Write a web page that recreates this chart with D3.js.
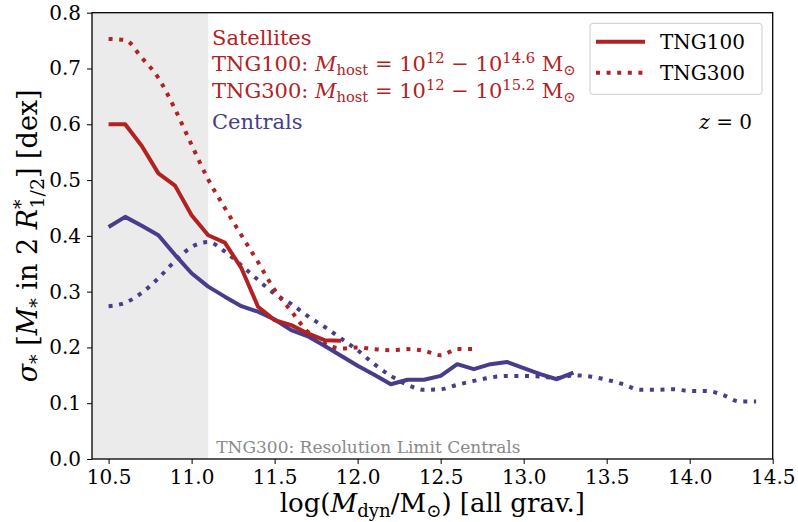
<!DOCTYPE html>
<html>
<head>
<meta charset="utf-8">
<script src="https://cdn.jsdelivr.net/npm/d3@7"></script>
</head>
<body style="margin:0">
<svg width="798" height="522"></svg>
<script>
// tick values
const xTicks = [10.5, 11.0, 11.5, 12.0, 12.5, 13.0, 13.5, 14.0, 14.5];
const yTicks = [0.0, 0.1, 0.2, 0.3, 0.4, 0.5, 0.6, 0.7, 0.8];

// satellites, TNG100 (solid)
const satMass100 = [10.5, 10.6, 10.7, 10.8, 10.9, 11.0, 11.1, 11.2, 11.3, 11.4, 11.5, 11.6, 11.7, 11.8, 11.9];
const satSigma100 = [0.600, 0.600, 0.561, 0.512, 0.490, 0.437, 0.401, 0.388, 0.342, 0.273, 0.249, 0.240, 0.225, 0.213, 0.212];

// satellites, TNG300 (dotted)
const satMass300 = [10.5, 10.6, 10.7, 10.8, 10.9, 11.0, 11.1, 11.2, 11.3, 11.4, 11.5, 11.6, 11.7, 11.8, 11.9, 12.0, 12.1, 12.2, 12.3, 12.4, 12.5, 12.6, 12.7];
const satSigma300 = [0.753, 0.751, 0.719, 0.683, 0.627, 0.563, 0.501, 0.450, 0.401, 0.353, 0.303, 0.265, 0.228, 0.207, 0.198, 0.200, 0.197, 0.195, 0.197, 0.194, 0.186, 0.197, 0.197];

// centrals, TNG100 (solid)
const cenMass100 = [10.5, 10.6, 10.7, 10.8, 10.9, 11.0, 11.1, 11.2, 11.3, 11.4, 11.5, 11.6, 11.7, 11.8, 11.9, 12.0, 12.1, 12.2, 12.3, 12.4, 12.5, 12.6, 12.7, 12.8, 12.9, 13.0, 13.1, 13.2, 13.3];
const cenSigma100 = [0.416, 0.434, 0.418, 0.401, 0.366, 0.333, 0.309, 0.291, 0.274, 0.264, 0.250, 0.231, 0.220, 0.203, 0.185, 0.167, 0.151, 0.134, 0.142, 0.142, 0.149, 0.170, 0.161, 0.170, 0.174, 0.163, 0.152, 0.143, 0.155];

// centrals, TNG300 (dotted)
const cenMass300 = [10.5, 10.6, 10.7, 10.8, 10.9, 11.0, 11.1, 11.2, 11.3, 11.4, 11.5, 11.6, 11.7, 11.8, 11.9, 12.0, 12.1, 12.2, 12.3, 12.4, 12.5, 12.6, 12.7, 12.8, 12.9, 13.0, 13.1, 13.2, 13.3, 13.4, 13.5, 13.6, 13.7, 13.8, 13.9, 14.0, 14.1, 14.2, 14.3, 14.4];
const cenSigma300 = [0.274, 0.280, 0.298, 0.324, 0.355, 0.380, 0.389, 0.372, 0.347, 0.321, 0.296, 0.278, 0.256, 0.237, 0.216, 0.195, 0.170, 0.149, 0.133, 0.124, 0.125, 0.133, 0.140, 0.146, 0.149, 0.149, 0.148, 0.145, 0.150, 0.148, 0.142, 0.134, 0.124, 0.124, 0.125, 0.122, 0.122, 0.115, 0.103, 0.103];

// shaded resolution limit
const resLimit = [10.4, 11.1];

const red = "#b22222", blue = "#483d8b";
const serifStack = '"DejaVu Serif", "Liberation Serif", serif';

const svg = d3.select("svg").style("font-family", serifStack, "important");
const pLeft = 92, pRight = 772.7, pTop = 12.7, pBottom = 459;

const x = d3.scaleLinear().domain([10.4, 14.5]).range([pLeft, pRight]);
const y = d3.scaleLinear().domain([0, 0.8]).range([pBottom, pTop]);

// plain text helper
function addLabel(px, py, size, str, color) {
  return svg.append("text")
    .attr("x", px).attr("y", py)
    .style("font-family", serifStack, "important")
    .style("font-size", size + "px")
    .attr("fill", color || "#000")
    .text(str);
}

// grey band
svg.append("rect")
  .attr("x", x(resLimit[0]))
  .attr("y", pTop)
  .attr("width", x(resLimit[1]) - x(resLimit[0]))
  .attr("height", pBottom - pTop)
  .attr("fill", "#ebebeb");

addLabel(x(resLimit[1]) + 8, pBottom - 6, 17, "TNG300: Resolution Limit Centrals", "#8a8a8a");

// lines
const lineLin = d3.line().x(d => x(d[0])).y(d => y(d[1]));
const lineSmooth = d3.line().x(d => x(d[0])).y(d => y(d[1])).curve(d3.curveMonotoneX);

function drawSeries(mass, sigma, color, dotted) {
  svg.append("path")
    .datum(d3.zip(mass, sigma))
    .attr("d", dotted ? lineSmooth : lineLin)
    .attr("fill", "none")
    .attr("stroke", color)
    .attr("stroke-width", 4)
    .attr("stroke-linejoin", "round")
    .attr("stroke-dasharray", dotted ? "4,6.6" : null);
}

drawSeries(cenMass300, cenSigma300, blue, true);
drawSeries(satMass300, satSigma300, red, true);
drawSeries(cenMass100, cenSigma100, blue, false);
drawSeries(satMass100, satSigma100, red, false);

// axes
const xAxis = svg.append("g")
  .attr("transform", `translate(0,${pBottom})`)
  .call(d3.axisBottom(x).tickValues(xTicks).tickFormat(d3.format(".1f")).tickSize(5).tickPadding(6));
const yAxis = svg.append("g")
  .attr("transform", `translate(${pLeft},0)`)
  .call(d3.axisLeft(y).tickValues(yTicks).tickFormat(d3.format(".1f")).tickSize(5).tickPadding(6));
[xAxis, yAxis].forEach(a => {
  a.attr("font-family", null).attr("font-size", null);
  a.select(".domain").remove();
  a.selectAll("text")
    .style("font-family", serifStack, "important")
    .style("font-size", "20px")
    .attr("fill", "#000");
  a.selectAll("line").attr("stroke", "#000").attr("stroke-width", 1);
});

// frame
svg.append("rect")
  .attr("x", pLeft).attr("y", pTop)
  .attr("width", pRight - pLeft).attr("height", pBottom - pTop)
  .attr("fill", "none").attr("stroke", "#000").attr("stroke-width", 1.3);

// text with sub/superscripts: s = shift in px (negative is up), f = size factor
function rich(px, py, size, parts, attrs) {
  const t = svg.append("text").attr("x", px).attr("y", py)
    .style("font-family", serifStack, "important")
    .style("font-size", size + "px");
  Object.entries(attrs || {}).forEach(([k, v]) => t.attr(k, v));
  let cur = 0;
  parts.forEach(p => {
    const s = p.s || 0;
    const ts = t.append("tspan").attr("dy", s - cur).text(p.t)
      .style("font-family", serifStack, "important");
    if (p.i) ts.style("font-style", "italic");
    if (p.f) ts.style("font-size", (size * p.f) + "px");
    if (p.dx) ts.attr("dx", p.dx);
    cur = s;
  });
  return t;
}

// annotations
addLabel(212, 45, 21, "Satellites", red);
[["TNG100: ", "14.6", 71], ["TNG300: ", "15.2", 97.5]].forEach(([lab, hi, yy]) => {
  rich(212, yy, 21, [
    { t: lab },
    { t: "M", i: true },
    { t: "host", s: 4, f: 0.7 },
    { t: " = 10", s: 0 },
    { t: "12", s: -8, f: 0.7 },
    { t: " \u2212 10", s: 0 },
    { t: hi, s: -8, f: 0.7 },
    { t: " M", s: 0 },
    { t: "\u2299", s: 4, f: 0.7 }
  ], { fill: red });
});
addLabel(212, 128.5, 21, "Centrals", blue);

rich(752, 128.5, 20, [
  { t: "z", i: true },
  { t: " = 0" }
], { "text-anchor": "end" });

// legend
const lg = svg.append("g");
lg.append("rect")
  .attr("x", 590).attr("y", 23.3).attr("width", 172).attr("height", 71)
  .attr("rx", 3).attr("fill", "#fff").attr("fill-opacity", 0.8)
  .attr("stroke", "#cccccc").attr("stroke-width", 1);
[["TNG100", false, 41.7], ["TNG300", true, 72.7]].forEach(([name, dotted, yy]) => {
  lg.append("line")
    .attr("x1", 596).attr("x2", 645).attr("y1", yy).attr("y2", yy)
    .attr("stroke", red).attr("stroke-width", 4)
    .attr("stroke-dasharray", dotted ? "4,6.6" : null);
  addLabel(660, yy + 7, 20, name);
});

// axis titles
rich((pLeft + pRight) / 2, 512, 26, [
  { t: "log(" },
  { t: "M", i: true },
  { t: "dyn", s: 5, f: 0.7 },
  { t: "/M", s: 0 },
  { t: "\u2299", s: 5, f: 0.7 },
  { t: ") [all grav.]", s: 0 }
], { "text-anchor": "middle" });

rich(0, 0, 27, [
  { t: "\u03c3", i: true },
  { t: "*", s: 6, f: 0.7 },
  { t: " [", s: 0 },
  { t: "M", i: true },
  { t: "*", s: 6, f: 0.7 },
  { t: " in 2 ", s: 0 },
  { t: "R", i: true },
  { t: "*", s: -10, f: 0.7 },
  { t: "1/2", s: 7, f: 0.7, dx: -9 },
  { t: "] [dex]", s: 0 }
], { "text-anchor": "middle", transform: `translate(37,${(pTop + pBottom) / 2}) rotate(-90)` });
</script>
</body>
</html>
